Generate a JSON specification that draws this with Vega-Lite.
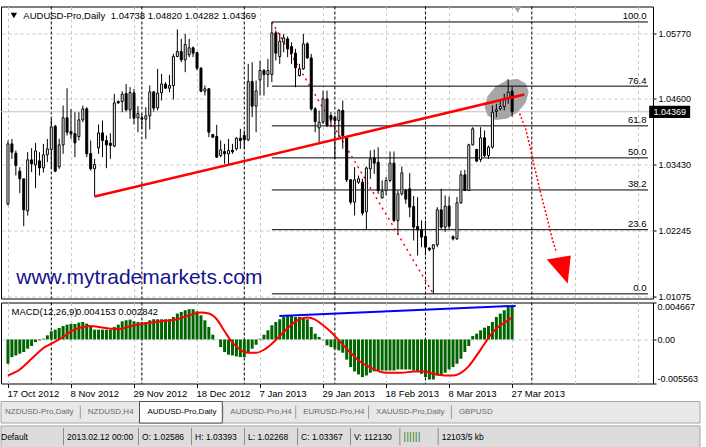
{
  "$schema": "https://vega.github.io/schema/vega-lite/v6.json",
  "autosize": {"type": "pad"},
  "padding": {"left": 0, "top": 5.5, "right": 0, "bottom": 0},
  "background": "white",
  "bounds": "flush",
  "center": false,
  "spacing": 4,
  "config": {
    "font": "Liberation Sans",
    "view": {"stroke": "black", "strokeWidth": 1},
    "axis": {"labelFont": "Liberation Sans", "labelFontSize": 9, "labelColor": "black", "tickColor": "black", "domainColor": "black", "gridColor": "#c8c8c8", "gridDash": [3, 3], "gridWidth": 1}
  },
  "datasets": {
    "bars": [
      {"i":0,"o":1.02727,"h":1.03857,"l":1.02698,"c":1.03797,"m":-0.00307},
      {"i":1,"o":1.03797,"h":1.03886,"l":1.0353,"c":1.03649,"m":-0.00223},
      {"i":2,"o":1.03631,"h":1.03678,"l":1.03233,"c":1.03411,"m":-0.00202},
      {"i":3,"o":1.0331,"h":1.03381,"l":1.02918,"c":1.03173,"m":-0.0018},
      {"i":4,"o":1.03173,"h":1.0318,"l":1.02329,"c":1.0262,"m":-0.00159},
      {"i":5,"o":1.02603,"h":1.03649,"l":1.02519,"c":1.03512,"m":-0.00117},
      {"i":6,"o":1.03512,"h":1.0372,"l":1.03292,"c":1.03441,"m":-0.00083},
      {"i":7,"o":1.03423,"h":1.03815,"l":1.03007,"c":1.03672,"m":-0.00033},
      {"i":8,"o":1.03494,"h":1.03649,"l":1.03233,"c":1.03369,"m":-0.00011},
      {"i":9,"o":1.03369,"h":1.03797,"l":1.03286,"c":1.03601,"m":0.0001},
      {"i":10,"o":1.03601,"h":1.03886,"l":1.0347,"c":1.03708,"m":0.00052},
      {"i":11,"o":1.03696,"h":1.04243,"l":1.03352,"c":1.041,"m":0.00103},
      {"i":12,"o":1.04112,"h":1.04136,"l":1.03292,"c":1.0331,"m":0.00124},
      {"i":13,"o":1.03387,"h":1.03886,"l":1.03352,"c":1.03779,"m":0.00145},
      {"i":14,"o":1.03779,"h":1.04481,"l":1.03619,"c":1.04261,"m":0.0017},
      {"i":15,"o":1.04261,"h":1.0479,"l":1.03946,"c":1.04005,"m":0.00187},
      {"i":16,"o":1.04017,"h":1.04421,"l":1.03886,"c":1.03976,"m":0.00196},
      {"i":17,"o":1.03981,"h":1.04362,"l":1.03559,"c":1.03815,"m":0.00196},
      {"i":18,"o":1.03928,"h":1.04362,"l":1.03857,"c":1.04225,"m":0.00213},
      {"i":19,"o":1.04225,"h":1.04481,"l":1.04184,"c":1.04421,"m":0.00221},
      {"i":20,"o":1.04421,"h":1.04451,"l":1.03559,"c":1.03619,"m":0.002},
      {"i":21,"o":1.03625,"h":1.03857,"l":1.03322,"c":1.03352,"m":0.00158},
      {"i":22,"o":1.03352,"h":1.0353,"l":1.02858,"c":1.03429,"m":0.00124},
      {"i":23,"o":1.03726,"h":1.04142,"l":1.03619,"c":1.03993,"m":0.00124},
      {"i":24,"o":1.03993,"h":1.04213,"l":1.03559,"c":1.03857,"m":0.00124},
      {"i":25,"o":1.03857,"h":1.03946,"l":1.03363,"c":1.03779,"m":0.00124},
      {"i":26,"o":1.03809,"h":1.03987,"l":1.0353,"c":1.03768,"m":0.00124},
      {"i":27,"o":1.03756,"h":1.04689,"l":1.03738,"c":1.04528,"m":0.00158},
      {"i":28,"o":1.04552,"h":1.0457,"l":1.0451,"c":1.04528,"m":0.00187},
      {"i":29,"o":1.04552,"h":1.04736,"l":1.04362,"c":1.04683,"m":0.00229},
      {"i":30,"o":1.04695,"h":1.04867,"l":1.04374,"c":1.04403,"m":0.00242},
      {"i":31,"o":1.04403,"h":1.04808,"l":1.04243,"c":1.04712,"m":0.00251},
      {"i":32,"o":1.04707,"h":1.04778,"l":1.04142,"c":1.04255,"m":0.00229},
      {"i":33,"o":1.04261,"h":1.04469,"l":1.04005,"c":1.04338,"m":0.00221},
      {"i":34,"o":1.04261,"h":1.04332,"l":1.04065,"c":1.04237,"m":0.00221},
      {"i":35,"o":1.04237,"h":1.04451,"l":1.03886,"c":1.04296,"m":0.00221},
      {"i":36,"o":1.04296,"h":1.04837,"l":1.04053,"c":1.04724,"m":0.00242},
      {"i":37,"o":1.04724,"h":1.04736,"l":1.04374,"c":1.04433,"m":0.00255},
      {"i":38,"o":1.04439,"h":1.05134,"l":1.04392,"c":1.04701,"m":0.00255},
      {"i":39,"o":1.04707,"h":1.05045,"l":1.0457,"c":1.04867,"m":0.00255},
      {"i":40,"o":1.04861,"h":1.04897,"l":1.04778,"c":1.0479,"m":0.00255},
      {"i":41,"o":1.0479,"h":1.05027,"l":1.04718,"c":1.04837,"m":0.00255},
      {"i":42,"o":1.04837,"h":1.05402,"l":1.04588,"c":1.05354,"m":0.00284},
      {"i":43,"o":1.05354,"h":1.05836,"l":1.05342,"c":1.05443,"m":0.00327},
      {"i":44,"o":1.05443,"h":1.05669,"l":1.05253,"c":1.05295,"m":0.00348},
      {"i":45,"o":1.05295,"h":1.05758,"l":1.05075,"c":1.05568,"m":0.00369},
      {"i":46,"o":1.05384,"h":1.05669,"l":1.05342,"c":1.05509,"m":0.00382},
      {"i":47,"o":1.05509,"h":1.05532,"l":1.05342,"c":1.05414,"m":0.00382},
      {"i":48,"o":1.05425,"h":1.05435,"l":1.05105,"c":1.05146,"m":0.00356},
      {"i":49,"o":1.05146,"h":1.05164,"l":1.04718,"c":1.04736,"m":0.00305},
      {"i":50,"o":1.04736,"h":1.04837,"l":1.04659,"c":1.04778,"m":0.00242},
      {"i":51,"o":1.04778,"h":1.0479,"l":1.03916,"c":1.04005,"m":0.00158},
      {"i":52,"o":1.03963,"h":1.03975,"l":1.03904,"c":1.03916,"m":0.0006},
      {"i":53,"o":1.03928,"h":1.04136,"l":1.03547,"c":1.03559,"m":-0.00003},
      {"i":54,"o":1.03589,"h":1.03857,"l":1.03559,"c":1.0369,"m":-0.00096},
      {"i":55,"o":1.0366,"h":1.03797,"l":1.03441,"c":1.03619,"m":-0.00159},
      {"i":56,"o":1.03619,"h":1.03886,"l":1.03441,"c":1.03678,"m":-0.00193},
      {"i":57,"o":1.03684,"h":1.03797,"l":1.03619,"c":1.03654,"m":-0.00202},
      {"i":58,"o":1.03708,"h":1.03916,"l":1.03678,"c":1.03898,"m":-0.00214},
      {"i":59,"o":1.03898,"h":1.04065,"l":1.03708,"c":1.03857,"m":-0.00223},
      {"i":60,"o":1.03946,"h":1.04035,"l":1.03708,"c":1.03868,"m":-0.00223},
      {"i":61,"o":1.03868,"h":1.05223,"l":1.03845,"c":1.04908,"m":-0.00159},
      {"i":62,"o":1.04908,"h":1.05253,"l":1.04273,"c":1.04469,"m":-0.00117},
      {"i":63,"o":1.04469,"h":1.04926,"l":1.04005,"c":1.04742,"m":-0.00066},
      {"i":64,"o":1.04938,"h":1.05283,"l":1.04659,"c":1.05105,"m":0.0001},
      {"i":65,"o":1.05105,"h":1.05134,"l":1.04659,"c":1.05033,"m":0.0006},
      {"i":66,"o":1.05033,"h":1.05313,"l":1.04807,"c":1.05105,"m":0.00115},
      {"i":67,"o":1.05033,"h":1.0597,"l":1.04897,"c":1.05776,"m":0.00179},
      {"i":68,"o":1.05776,"h":1.05818,"l":1.05283,"c":1.05414,"m":0.00221},
      {"i":69,"o":1.05354,"h":1.0577,"l":1.05223,"c":1.05628,"m":0.00255},
      {"i":70,"o":1.0561,"h":1.05758,"l":1.05431,"c":1.05687,"m":0.00284},
      {"i":71,"o":1.05669,"h":1.05711,"l":1.05342,"c":1.05491,"m":0.00297},
      {"i":72,"o":1.05532,"h":1.0561,"l":1.05223,"c":1.05414,"m":0.00297},
      {"i":73,"o":1.05414,"h":1.05491,"l":1.04807,"c":1.05152,"m":0.00284},
      {"i":74,"o":1.05015,"h":1.05223,"l":1.04998,"c":1.05134,"m":0.00284},
      {"i":75,"o":1.05134,"h":1.05758,"l":1.05116,"c":1.0558,"m":0.00272},
      {"i":76,"o":1.0558,"h":1.0561,"l":1.05313,"c":1.0533,"m":0.00255},
      {"i":77,"o":1.0533,"h":1.05402,"l":1.04391,"c":1.04421,"m":0.00158},
      {"i":78,"o":1.04421,"h":1.04451,"l":1.04005,"c":1.04195,"m":0.00073},
      {"i":79,"o":1.04082,"h":1.04391,"l":1.03827,"c":1.04183,"m":0.00031},
      {"i":80,"o":1.04183,"h":1.04748,"l":1.04154,"c":1.04599,"m":-0.00003},
      {"i":81,"o":1.04599,"h":1.04748,"l":1.04094,"c":1.04124,"m":-0.00075},
      {"i":82,"o":1.04302,"h":1.04362,"l":1.04094,"c":1.04231,"m":-0.00096},
      {"i":83,"o":1.04273,"h":1.04302,"l":1.0353,"c":1.04213,"m":-0.00117},
      {"i":84,"o":1.04213,"h":1.04421,"l":1.03916,"c":1.04391,"m":-0.00138},
      {"i":85,"o":1.04392,"h":1.0457,"l":1.03709,"c":1.03946,"m":-0.00168},
      {"i":86,"o":1.03917,"h":1.0393,"l":1.03114,"c":1.03156,"m":-0.00255},
      {"i":87,"o":1.03156,"h":1.0317,"l":1.02716,"c":1.02758,"m":-0.00349},
      {"i":88,"o":1.02758,"h":1.03382,"l":1.0252,"c":1.03156,"m":-0.00404},
      {"i":89,"o":1.03114,"h":1.03233,"l":1.03085,"c":1.03174,"m":-0.00442},
      {"i":90,"o":1.03114,"h":1.03174,"l":1.0252,"c":1.02562,"m":-0.00476},
      {"i":91,"o":1.02586,"h":1.03393,"l":1.02268,"c":1.03367,"m":-0.00455},
      {"i":92,"o":1.03352,"h":1.03679,"l":1.03174,"c":1.0353,"m":-0.00421},
      {"i":93,"o":1.03548,"h":1.03697,"l":1.03263,"c":1.03453,"m":-0.00404},
      {"i":94,"o":1.03471,"h":1.03738,"l":1.02906,"c":1.02966,"m":-0.00396},
      {"i":95,"o":1.02835,"h":1.03144,"l":1.02817,"c":1.02954,"m":-0.00392},
      {"i":96,"o":1.02966,"h":1.03204,"l":1.02877,"c":1.03144,"m":-0.00392},
      {"i":97,"o":1.03144,"h":1.03661,"l":1.03114,"c":1.03453,"m":-0.00392},
      {"i":98,"o":1.03453,"h":1.03661,"l":1.02401,"c":1.02431,"m":-0.00392},
      {"i":99,"o":1.02431,"h":1.02966,"l":1.02193,"c":1.02906,"m":-0.00379},
      {"i":100,"o":1.02906,"h":1.03394,"l":1.02877,"c":1.03281,"m":-0.00379},
      {"i":101,"o":1.02966,"h":1.02996,"l":1.02728,"c":1.02811,"m":-0.00379},
      {"i":102,"o":1.02996,"h":1.03275,"l":1.0249,"c":1.02669,"m":-0.00379},
      {"i":103,"o":1.02681,"h":1.02865,"l":1.02074,"c":1.02312,"m":-0.00392},
      {"i":104,"o":1.02324,"h":1.02847,"l":1.01807,"c":1.02265,"m":-0.00404},
      {"i":105,"o":1.02265,"h":1.02431,"l":1.01955,"c":1.02134,"m":-0.00434},
      {"i":106,"o":1.02146,"h":1.02431,"l":1.01807,"c":1.01955,"m":-0.00476},
      {"i":107,"o":1.01938,"h":1.01955,"l":1.01884,"c":1.01908,"m":-0.00506},
      {"i":108,"o":1.01926,"h":1.0201,"l":1.01123,"c":1.01997,"m":-0.00506},
      {"i":109,"o":1.01997,"h":1.02669,"l":1.01955,"c":1.02621,"m":-0.00455},
      {"i":110,"o":1.02621,"h":1.02996,"l":1.02282,"c":1.02312,"m":-0.00447},
      {"i":111,"o":1.02312,"h":1.02877,"l":1.02223,"c":1.02687,"m":-0.00421},
      {"i":112,"o":1.02687,"h":1.02859,"l":1.02282,"c":1.0233,"m":-0.00379},
      {"i":113,"o":1.02146,"h":1.02163,"l":1.02074,"c":1.02104,"m":-0.00349},
      {"i":114,"o":1.02104,"h":1.02847,"l":1.02086,"c":1.02746,"m":-0.00307},
      {"i":115,"o":1.02746,"h":1.03322,"l":1.02728,"c":1.03245,"m":-0.00244},
      {"i":116,"o":1.03245,"h":1.03334,"l":1.02954,"c":1.02966,"m":-0.00159},
      {"i":117,"o":1.02966,"h":1.03798,"l":1.0296,"c":1.0378,"m":-0.00083},
      {"i":118,"o":1.0378,"h":1.04095,"l":1.03768,"c":1.04065,"m":0.00044},
      {"i":119,"o":1.03697,"h":1.03709,"l":1.03471,"c":1.03489,"m":0.00073},
      {"i":120,"o":1.03519,"h":1.04095,"l":1.03471,"c":1.03905,"m":0.00115},
      {"i":121,"o":1.03905,"h":1.04036,"l":1.0356,"c":1.0359,"m":0.00149},
      {"i":122,"o":1.0359,"h":1.03768,"l":1.0353,"c":1.03738,"m":0.0017},
      {"i":123,"o":1.03738,"h":1.04481,"l":1.03709,"c":1.04362,"m":0.00221},
      {"i":124,"o":1.04374,"h":1.04511,"l":1.04273,"c":1.04404,"m":0.00284},
      {"i":125,"o":1.04422,"h":1.0457,"l":1.04392,"c":1.04463,"m":0.00327},
      {"i":126,"o":1.04463,"h":1.04689,"l":1.04392,"c":1.046,"m":0.00369},
      {"i":127,"o":1.046,"h":1.0495,"l":1.04511,"c":1.04719,"m":0.00411},
      {"i":128,"o":1.04738,"h":1.0482,"l":1.04282,"c":1.04369,"m":0.004153}
    ],
    "signal": [
      {"i":0,"s":-0.00455},{"i":3,"s":-0.00379},{"i":6,"s":-0.00244},{"i":9,"s":-0.00109},{"i":11,"s":-0.00054},
      {"i":14,"s":0.00031},{"i":16,"s":0.00103},{"i":19,"s":0.00158},{"i":21,"s":0.0017},{"i":23,"s":0.00158},
      {"i":26,"s":0.00136},{"i":28,"s":0.00128},{"i":31,"s":0.00166},{"i":35,"s":0.00204},{"i":39,"s":0.00229},
      {"i":43,"s":0.00255},{"i":46,"s":0.00305},{"i":49,"s":0.00339},{"i":51,"s":0.00327},{"i":53,"s":0.00255},
      {"i":55,"s":0.00103},{"i":57,"s":-0.00041},{"i":59,"s":-0.0013},{"i":61,"s":-0.00168},{"i":63,"s":-0.00168},
      {"i":65,"s":-0.0013},{"i":67,"s":-0.00054},{"i":70,"s":0.00094},{"i":72,"s":0.00187},{"i":74,"s":0.00255},
      {"i":76,"s":0.00276},{"i":78,"s":0.00251},{"i":80,"s":0.00179},{"i":82,"s":0.00094},{"i":84,"s":-0.00011},
      {"i":86,"s":-0.00117},{"i":87,"s":-0.00168},{"i":89,"s":-0.00265},{"i":91,"s":-0.00328},{"i":93,"s":-0.00379},
      {"i":95,"s":-0.00413},{"i":97,"s":-0.00421},{"i":100,"s":-0.00421},{"i":103,"s":-0.00404},{"i":106,"s":-0.00404},
      {"i":108,"s":-0.00434},{"i":111,"s":-0.00455},{"i":113,"s":-0.00455},{"i":115,"s":-0.00421},{"i":117,"s":-0.00337},
      {"i":119,"s":-0.00202},{"i":121,"s":-0.00054},{"i":123,"s":0.00086},{"i":125,"s":0.00179},{"i":127,"s":0.00242},
      {"i":128,"s":0.002842}
    ],
    "separators": [{"i":11},{"i":34},{"i":60},{"i":83},{"i":106},{"i":133}],
    "fib": [
      {"level":"100.0","price":1.0597},
      {"level":"76.4","price":1.04826},
      {"level":"61.8","price":1.04118},
      {"level":"50.0","price":1.03547},
      {"level":"38.2","price":1.02975},
      {"level":"23.6","price":1.02267},
      {"level":"0.0","price":1.01123}
    ],
    "tabs": [
      {"n":1,"tab":"NZDUSD-Pro,Daily","active":false},
      {"n":2,"tab":"NZDUSD,H4","active":false},
      {"n":3,"tab":"AUDUSD-Pro,Daily","active":true},
      {"n":4,"tab":"AUDUSD-Pro,H4","active":false},
      {"n":5,"tab":"EURUSD-Pro,H4","active":false},
      {"n":6,"tab":"XAUUSD-Pro,Daily","active":false},
      {"n":7,"tab":"GBPUSD","active":false}
    ],
    "status": [
      {"n":1,"text":"Default"},
      {"n":2,"text":"2013.02.12 00:00"},
      {"n":3,"text":"O: 1.02586"},
      {"n":4,"text":"H: 1.03393"},
      {"n":5,"text":"L: 1.02268"},
      {"n":6,"text":"C: 1.03367"},
      {"n":7,"text":"V: 112130"},
      {"n":8,"text":"||||||"},
      {"n":9,"text":"12103/5 kb"}
    ]
  },
  "vconcat": [
    {
      "width": 652,
      "height": 292,
      "layer": [
        {
          "data": {"name": "separators"},
          "mark": {"type": "rule", "color": "black", "strokeDash": [3, 2], "strokeWidth": 1},
          "encoding": {
            "x": {"field": "i", "type": "quantitative", "scale": {"domain": [-0.5, 162.5], "nice": false, "zero": false},
                  "axis": {"orient": "bottom", "values": [0,8,16,24,32,40,48,56,64,72,80,88,96,104,112,120,128,136,144,152,160], "labels": false, "ticks": false, "domain": false, "grid": true, "title": null}}
          }
        },
        {
          "data": {"values": [{"p": 1.04369}]},
          "mark": {"type": "rule", "color": "#c0c0c0", "strokeWidth": 1},
          "encoding": {
            "y": {"field": "p", "type": "quantitative", "scale": {"domain": [1.0104, 1.06246], "nice": false, "zero": false},
                  "axis": {"orient": "right", "values": [1.0577,1.05185,1.046,1.04015,1.0343,1.0283,1.02245,1.0166,1.01075], "format": ".5f", "tickSize": 3, "labelPadding": 2, "domain": false, "grid": true, "title": null}}
          }
        },
        {
          "data": {"values": [{"i": 126.6, "p": 1.04588}]},
          "mark": {"type": "point", "filled": true, "opacity": 1, "color": "#a6a6a6", "size": 2500,
                   "shape": "M0.766,-0.643L0.882,-0.297L0.761,0.13L0.437,0.521L-0.005,0.772L-0.444,0.817L-0.766,0.643L-0.882,0.297L-0.761,-0.13L-0.437,-0.521L0.005,-0.772L0.444,-0.817Z"},
          "encoding": {"x": {"field": "i", "type": "quantitative"}, "y": {"field": "p", "type": "quantitative"}}
        },
        {
          "data": {"name": "fib"},
          "mark": {"type": "rule", "color": "black", "strokeWidth": 1},
          "encoding": {"y": {"field": "price", "type": "quantitative"}, "x": {"datum": 67}, "x2": {"datum": 162.5}}
        },
        {
          "data": {"values": [{"i": 67, "p": 1.0597}, {"i": 108, "p": 1.01123}]},
          "mark": {"type": "line", "color": "#ff0000", "strokeDash": [2, 4], "strokeWidth": 1.5},
          "encoding": {"x": {"field": "i", "type": "quantitative"}, "y": {"field": "p", "type": "quantitative"}}
        },
        {
          "data": {"name": "bars"},
          "mark": {"type": "rule", "color": "black", "strokeWidth": 1},
          "encoding": {"x": {"field": "i", "type": "quantitative"}, "y": {"field": "l", "type": "quantitative"}, "y2": {"field": "h"}}
        },
        {
          "data": {"name": "bars"},
          "mark": {"type": "bar", "size": 2, "stroke": "black", "strokeWidth": 1, "orient": "vertical"},
          "encoding": {
            "x": {"field": "i", "type": "quantitative"},
            "y": {"field": "o", "type": "quantitative"},
            "y2": {"field": "c"},
            "fill": {"condition": {"test": "datum.c >= datum.o", "value": "white"}, "value": "black"}
          }
        },
        {
          "data": {"values": [{"i": 22, "p": 1.02858}, {"i": 131.1, "p": 1.04677}]},
          "mark": {"type": "line", "color": "#ff0000", "strokeWidth": 2.5},
          "encoding": {"x": {"field": "i", "type": "quantitative"}, "y": {"field": "p", "type": "quantitative"}}
        },
        {
          "data": {"values": [
            {"i": 129.9, "p": 1.04338}, {"i": 131.4, "p": 1.04071}, {"i": 132.6, "p": 1.03732}, {"i": 133.6, "p": 1.03411},
            {"i": 134.9, "p": 1.03019}, {"i": 136.6, "p": 1.02555}, {"i": 138.1, "p": 1.02127}, {"i": 139.1, "p": 1.01895}
          ]},
          "mark": {"type": "line", "color": "#ff0000", "strokeDash": [2, 2], "strokeWidth": 1.5},
          "encoding": {"x": {"field": "i", "type": "quantitative"}, "y": {"field": "p", "type": "quantitative"}}
        },
        {
          "data": {"values": [{"i": 140.6, "p": 1.01616}]},
          "mark": {"type": "point", "filled": true, "opacity": 1, "color": "#ff0000", "size": 1600, "shape": "M-0.75,-0.335L0.45,-0.535L0.3,0.865Z"},
          "encoding": {"x": {"field": "i", "type": "quantitative"}, "y": {"field": "p", "type": "quantitative"}}
        },
        {
          "data": {"name": "fib"},
          "mark": {"type": "text", "align": "right", "baseline": "alphabetic", "dy": -2.5, "fontSize": 9.5, "color": "black"},
          "encoding": {"y": {"field": "price", "type": "quantitative"}, "x": {"datum": 162.1}, "text": {"field": "level"}}
        },
        {
          "data": {"values": [{"t": "www.mytrademarkets.com"}]},
          "mark": {"type": "text", "align": "left", "baseline": "alphabetic", "fontSize": 21, "color": "#13138e"},
          "encoding": {"x": {"datum": 2.1}, "y": {"datum": 1.01307}, "text": {"field": "t"}}
        },
        {
          "data": {"values": [{"t": "AUDUSD-Pro,Daily"}]},
          "mark": {"type": "text", "align": "left", "baseline": "alphabetic", "fontSize": 9.5, "color": "black"},
          "encoding": {"x": {"datum": 3.9}, "y": {"datum": 1.0603}, "text": {"field": "t"}}
        },
        {
          "data": {"values": [{"t": "1.04738 1.04820 1.04282 1.04369"}]},
          "mark": {"type": "text", "align": "left", "baseline": "alphabetic", "fontSize": 9.5, "color": "black"},
          "encoding": {"x": {"datum": 26.1}, "y": {"datum": 1.0603}, "text": {"field": "t"}}
        },
        {
          "data": {"values": [{}]},
          "mark": {"type": "point", "shape": "triangle-down", "filled": true, "opacity": 1, "color": "black", "size": 40},
          "encoding": {"x": {"datum": 1.5}, "y": {"datum": 1.06086}}
        },
        {
          "data": {"values": [{}]},
          "mark": {"type": "point", "shape": "triangle-down", "filled": true, "opacity": 1, "color": "#a0a0a0", "size": 60},
          "encoding": {"x": {"datum": 129.4}, "y": {"datum": 1.06193}}
        },
        {
          "data": {"values": [{"p": 1.04369}]},
          "mark": {"type": "point", "filled": true, "opacity": 1, "color": "black", "size": 1681, "shape": "M-1,-0.3H1V0.3H-1Z", "clip": false},
          "encoding": {"x": {"datum": 168}, "y": {"field": "p", "type": "quantitative"}}
        },
        {
          "data": {"values": [{"p": 1.04369}]},
          "mark": {"type": "text", "align": "center", "baseline": "middle", "fontSize": 9, "color": "white", "clip": false},
          "encoding": {"x": {"datum": 168}, "y": {"field": "p", "type": "quantitative"}, "text": {"field": "p", "type": "quantitative", "format": ".5f"}}
        }
      ]
    },
    {
      "width": 652,
      "height": 81,
      "layer": [
        {
          "data": {"name": "separators"},
          "mark": {"type": "rule", "color": "black", "strokeDash": [3, 2], "strokeWidth": 1},
          "encoding": {
            "x": {"field": "i", "type": "quantitative", "scale": {"domain": [-0.5, 162.5], "nice": false, "zero": false},
                  "axis": {"orient": "bottom", "values": [0,8,16,24,32,40,48,56,64,72,80,88,96,104,112,120,128,136,144,152,160],
                           "grid": true, "domain": false, "tickSize": 4, "labelFontSize": 9.5,
                           "tickOpacity": {"condition": {"test": "datum.value % 16 === 0 && datum.value <= 128", "value": 1}, "value": 0},
                           "labelExpr": "datum.value % 16 === 0 && datum.value <= 128 ? ['17 Oct 2012','8 Nov 2012','29 Nov 2012','18 Dec 2012','7 Jan 2013','29 Jan 2013','18 Feb 2013','8 Mar 2013','27 Mar 2013'][datum.value / 16] : ''",
                           "labelAlign": "left", "labelFlush": false, "labelOverlap": false, "labelPadding": 1, "labelOffset": -1, "title": null}}
          }
        },
        {
          "data": {"name": "bars"},
          "mark": {"type": "bar", "size": 3, "color": "#006400", "orient": "vertical"},
          "encoding": {
            "x": {"field": "i", "type": "quantitative"},
            "y": {"field": "m", "type": "quantitative", "scale": {"domain": [-0.005563, 0.004667], "nice": false, "zero": false},
                  "axis": {"orient": "right", "values": [-0.005563, 0, 0.004667],
                           "labelExpr": "datum.value === 0 ? '0.00' : replace(format(datum.value, '.6f'), '\u2212', '-')",
                           "labelFlush": true, "tickSize": 3, "labelPadding": 1, "domain": false, "grid": true,
                           "gridOpacity": {"condition": {"test": "datum.value === 0", "value": 1}, "value": 0}, "title": null}},
            "y2": {"datum": 0}
          }
        },
        {
          "data": {"name": "signal"},
          "mark": {"type": "line", "color": "#ff0000", "strokeWidth": 2, "interpolate": "monotone"},
          "encoding": {"x": {"field": "i", "type": "quantitative"}, "y": {"field": "s", "type": "quantitative"}}
        },
        {
          "data": {"values": [{"i": 68.9, "v": 0.00297}, {"i": 128.9, "v": 0.00424}]},
          "mark": {"type": "line", "color": "#0000ff", "strokeWidth": 2},
          "encoding": {"x": {"field": "i", "type": "quantitative"}, "y": {"field": "v", "type": "quantitative"}}
        },
        {
          "data": {"values": [{"t": "MACD(12,26,9)"}]},
          "mark": {"type": "text", "align": "left", "baseline": "alphabetic", "fontSize": 9.5, "color": "black"},
          "encoding": {"x": {"datum": 0.9}, "y": {"datum": 0.00305}, "text": {"field": "t"}}
        },
        {
          "data": {"values": [{"t": "0.004153 0.002842"}]},
          "mark": {"type": "text", "align": "left", "baseline": "alphabetic", "fontSize": 9.5, "color": "black"},
          "encoding": {"x": {"datum": 17.3}, "y": {"datum": 0.00305}, "text": {"field": "t"}}
        }
      ]
    },
    {
      "width": 699,
      "height": 60,
      "view": {"stroke": null},
      "layer": [
        {
          "data": {"values": [{"row": "tabs"}, {"row": "status"}]},
          "mark": {"type": "rect", "stroke": "#a8a8a8", "strokeWidth": 1},
          "encoding": {
            "y": {"field": "row", "type": "nominal", "scale": {"domain": ["tabs", "status"], "range": [14, 60], "paddingInner": 0.12, "paddingOuter": 0}, "axis": null},
            "fill": {"field": "row", "type": "nominal", "scale": {"domain": ["tabs", "status"], "range": ["#e8e8e8", "#dcdcdc"]}, "legend": null}
          }
        },
        {
          "data": {"name": "tabs"},
          "transform": [
            {"calculate": "30 + 3.3 * length(datum.tab)", "as": "w"},
            {"window": [{"op": "sum", "field": "w", "as": "end"}], "sort": [{"field": "n", "order": "ascending"}], "frame": [null, 0]},
            {"calculate": "datum.end - 4", "as": "x1"},
            {"calculate": "datum.x1 + 1", "as": "x1b"},
            {"filter": "datum.n < 7"}
          ],
          "mark": {"type": "bar", "color": "#9a9a9a", "height": {"band": 0.6}},
          "encoding": {
            "x": {"field": "x1", "type": "quantitative", "scale": {"domain": [0, 699], "nice": false, "zero": false}, "axis": null},
            "x2": {"field": "x1b"},
            "y": {"datum": "tabs", "axis": null}
          }
        },
        {
          "data": {"name": "tabs"},
          "transform": [
            {"calculate": "30 + 3.3 * length(datum.tab)", "as": "w"},
            {"window": [{"op": "sum", "field": "w", "as": "end"}], "sort": [{"field": "n", "order": "ascending"}], "frame": [null, 0]},
            {"calculate": "datum.end - datum.w - 4", "as": "x0"},
            {"calculate": "datum.end - 4", "as": "x1"},
            {"filter": "datum.active"}
          ],
          "mark": {"type": "rect", "fill": "white", "stroke": "#505050", "strokeWidth": 1},
          "encoding": {"x": {"field": "x0", "type": "quantitative", "axis": null}, "x2": {"field": "x1"}, "y": {"datum": "tabs", "axis": null}}
        },
        {
          "data": {"name": "tabs"},
          "transform": [
            {"calculate": "30 + 3.3 * length(datum.tab)", "as": "w"},
            {"window": [{"op": "sum", "field": "w", "as": "end"}], "sort": [{"field": "n", "order": "ascending"}], "frame": [null, 0]},
            {"calculate": "datum.end - datum.w + 4", "as": "tx"}
          ],
          "mark": {"type": "text", "align": "left", "baseline": "middle", "fontSize": 8},
          "encoding": {
            "x": {"field": "tx", "type": "quantitative", "axis": null},
            "y": {"datum": "tabs", "axis": null},
            "text": {"field": "tab"},
            "color": {"condition": {"test": "datum.active", "value": "black"}, "value": "#6a6a6a"}
          }
        },
        {
          "data": {"name": "status"},
          "transform": [
            {"calculate": "datum.n === 1 ? 68 : 16.3 + 3.67 * length(datum.text)", "as": "w"},
            {"window": [{"op": "sum", "field": "w", "as": "end"}], "sort": [{"field": "n", "order": "ascending"}], "frame": [null, 0]},
            {"calculate": "datum.end - 6", "as": "x1"},
            {"calculate": "datum.x1 + 1", "as": "x1b"},
            {"filter": "datum.n < 9"}
          ],
          "mark": {"type": "bar", "color": "#8c8c8c", "height": {"band": 0.8}},
          "encoding": {"x": {"field": "x1", "type": "quantitative", "axis": null}, "x2": {"field": "x1b"}, "y": {"datum": "status", "axis": null}}
        },
        {
          "data": {"name": "status"},
          "transform": [
            {"calculate": "datum.n === 1 ? 68 : 16.3 + 3.67 * length(datum.text)", "as": "w"},
            {"window": [{"op": "sum", "field": "w", "as": "end"}], "sort": [{"field": "n", "order": "ascending"}], "frame": [null, 0]},
            {"calculate": "max(0, datum.end - datum.w - 2)", "as": "tx"}
          ],
          "mark": {"type": "text", "align": "left", "baseline": "middle"},
          "encoding": {
            "x": {"field": "tx", "type": "quantitative", "axis": null},
            "y": {"datum": "status", "axis": null},
            "text": {"field": "text"},
            "color": {"condition": {"test": "datum.n === 8", "value": "#3a8a2a"}, "value": "black"},
            "size": {"condition": {"test": "datum.n === 8", "value": 11}, "value": 8.5}
          }
        }
      ]
    }
  ]
}
